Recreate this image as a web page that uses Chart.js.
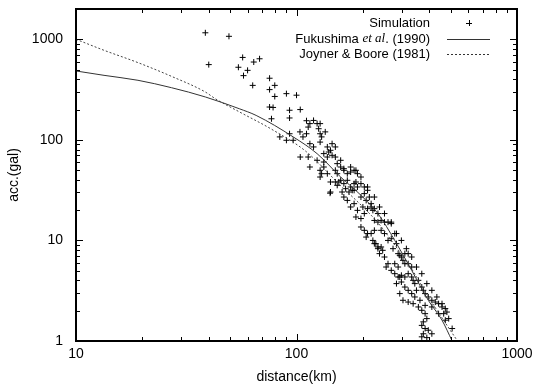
<!DOCTYPE html>
<html>
<head>
<meta charset="utf-8">
<script src="https://cdn.jsdelivr.net/npm/chart.js@4/dist/chart.umd.min.js"></script>
<style>
  html, body { margin: 0; padding: 0; background: #fff; }
</style>
</head>
<body>
<canvas id="chart" width="544" height="389"></canvas>
<script>
// tick values (log axes)
const xLabels = [10, 100, 1000];
const yLabels = [1, 10, 100, 1000];
const xMinor = [20, 30, 40, 50, 60, 70, 80, 90, 200, 300, 400, 500, 600, 700, 800, 900];
const yMinor = [2, 3, 4, 5, 6, 7, 8, 9, 20, 30, 40, 50, 60, 70, 80, 90, 200, 300, 400, 500, 600, 700, 800, 900, 2000];

const legendLabels = ['Simulation', 'Fukushima et al. (1990)', 'Joyner & Boore (1981)'];

// Fukushima et al. (1990) curve
const fukuDist = [10, 13.4, 19.1, 27.1, 38.6, 55, 65.6, 96.6, 124, 158.6, 196, 234, 279, 333, 396, 457, 508];
const fukuAcc = [484, 438, 391, 330, 267, 204, 175, 107, 72.9, 42.7, 28.1, 18.5, 10.0, 5.04, 2.54, 1.61, 1];

// Joyner & Boore (1981) curve
const joynerDist = [10, 13.4, 19.1, 27.1, 38.6, 43, 55, 78.3, 111, 158.6, 196, 234, 279, 333, 396, 457, 537];
const joynerAcc = [1000, 777, 586, 428, 299, 255, 190, 125, 76, 35, 22.5, 15, 9.0, 5.2, 2.75, 1.7, 1];

// simulated records [distance km, acc gal]
const simulation = [
  // scattered near field
  [38.6, 1160], [49.4, 1070], [40, 560], [57, 660], [64, 594], [54.5, 527], [60, 491], [57.5, 435],
  [63.3, 348], [68, 640], [75.5, 410], [75.5, 316], [79.7, 348], [79.7, 270], [75.5, 212], [78.3, 210],
  [90, 288], [100, 278], [93, 197], [104, 200], [77, 162], [93, 165], [111, 155], [115, 145],
  // 80 - 150 km
  [84, 107], [90, 99], [93, 115], [96.6, 99], [103.7, 120], [107, 107], [111, 115], [113, 134],
  [119.5, 156], [124, 145], [126, 129], [128, 115], [130, 107], [115, 91.6], [119.5, 85], [128, 95],
  [138, 85], [142.6, 78.7], [133, 73], [104, 67.5], [113, 67.5], [115, 53.7], [124, 62.6], [133, 60.2],
  [138, 67.5], [128, 49.8], [133, 53.7], [138, 46.1], [128, 145], [135, 120], [145, 91.6], [150, 85],
  [128, 42.7], [130, 46.1], [142.6, 38.1], [142, 29.5],
  // 140 - 220 km
  [140, 75.7], [145, 70.2], [150, 67.5], [153, 58], [158.6, 62.6], [150, 49.8], [153, 46.1], [158.6, 53.7],
  [164, 49.8], [170, 46.1], [158.6, 39.6], [150, 38.1], [153, 35.3], [155.6, 38.1], [164, 36.7], [170, 39.6],
  [176, 34], [182.5, 31.5], [161, 30.3], [167, 32.7], [142.6, 30.3], [176, 53.7], [182.5, 49.8], [189, 46.1],
  [186, 38.1], [189, 34], [196, 36.7], [203, 34], [210, 31.5], [203, 29.2], [196, 27], [207, 25],
  [214, 27], [200, 21.5], [210, 20.7], [218, 23.2], [182.5, 23.2], [176, 21.5], [189, 19.9], [186, 17.1],
  [196, 16.5], [203, 18.5], [170, 25], [164, 27], [182.5, 36.7], [179, 31.5], [173, 30.3],
  // 200 - 330 km
  [218, 21.5], [222, 19.9], [225.5, 20.7], [234, 18.5], [225.5, 15.8], [234, 15.2], [242, 15.8], [250.6, 15.2],
  [260, 15.2], [269, 14.7], [242, 12.6], [250.6, 11.7], [225.5, 12.6], [218, 11.7], [210, 11.7], [203, 12.6],
  [196, 13.6], [207, 10.8], [222, 10], [229, 9.29], [234, 8.61], [242, 8.61], [246, 7.97], [260, 10],
  [269, 10.4], [279, 11.7], [284, 9.29], [274, 8.28], [289, 7.39], [294, 7.11], [299, 6.84], [310, 7.39],
  [321, 7.39], [304, 6.34], [310, 5.87], [321, 5.87], [333, 5.44], [250.6, 6.84], [260, 5.87], [255, 5.44],
  [269, 5.04], [279, 4.67], [289, 4.33], [299, 4.5], [310, 4.33], [225.5, 9.29], [234, 8.28], [238, 7.39],
  // 280 - 510 km
  [321, 4.67], [333, 4.33], [338, 4.01], [344, 3.72], [357, 4.01], [370, 3.44], [376, 3.19], [383, 2.96],
  [396, 2.74], [411, 2.54], [426, 2.44], [441, 2.35], [457, 2.18], [473, 2.1], [465, 1.87], [441, 1.87],
  [411, 2.18], [383, 2.26], [363, 2.54], [344, 2.74], [333, 2.96], [321, 3.19], [310, 3.44], [299, 3.86],
  [294, 2.96], [304, 2.54], [321, 2.44], [338, 2.35], [357, 2.18], [370, 2.02], [383, 1.87], [390, 1.67],
  [376, 1.55], [370, 1.43], [383, 1.33], [396, 1.28], [376, 1.18], [370, 1.10], [390, 1.08], [411, 1.18],
  [490, 1.67], [473, 1.61], [508, 1.33], [350, 3.19], [279, 5.87], [289, 5.44], [284, 3.72], [294, 4.33],
  // upper edge of the band
  [164, 51.7], [176, 47.9], [186, 49.8], [196, 42.7], [210, 34], [225.5, 27], [238, 21.5], [250.6, 18.5],
  [269, 15.2], [284, 11.7], [299, 10], [315, 8.28], [333, 6.84], [350, 5.44], [370, 4.67], [390, 3.72],
  [411, 3.19], [433, 2.74], [457, 2.35], [481, 1.94]
];

const FONT = "'Liberation Sans', Arial, sans-serif";
Chart.defaults.font.family = FONT;
Chart.defaults.font.size = 14;
Chart.defaults.color = '#000';

const toXY = (xs, ys) => xs.map((x, i) => ({ x: x, y: ys[i] }));

// inward tick marks + frame, gnuplot style
const frameTicks = {
  id: 'frameTicks',
  afterDatasetsDraw(chart) {
    const { ctx, chartArea: a, scales: { x, y } } = chart;
    ctx.save();
    ctx.strokeStyle = '#000';
    ctx.lineWidth = 1;
    ctx.beginPath();
    const xt = (v, len) => {
      const px = Math.round(x.getPixelForValue(v)) + 0.5;
      ctx.moveTo(px, a.bottom); ctx.lineTo(px, a.bottom - len);
      ctx.moveTo(px, a.top); ctx.lineTo(px, a.top + len);
    };
    const yt = (v, len) => {
      const py = Math.round(y.getPixelForValue(v)) + 0.5;
      ctx.moveTo(a.left, py); ctx.lineTo(a.left + len, py);
      ctx.moveTo(a.right, py); ctx.lineTo(a.right - len, py);
    };
    xLabels.forEach(v => xt(v, 7));
    xMinor.forEach(v => xt(v, 4));
    yLabels.forEach(v => yt(v, 7));
    yMinor.forEach(v => yt(v, 4));
    ctx.stroke();
    ctx.lineWidth = 2;
    ctx.strokeRect(a.left, a.top, a.right - a.left, a.bottom - a.top);
    ctx.restore();
  }
};

// legend in the top right corner, text right-aligned, samples on the right
const keyBox = {
  id: 'keyBox',
  afterDraw(chart) {
    const { ctx, chartArea: a } = chart;
    const textRight = a.right - 87;
    const s0 = a.right - 70, s1 = a.right - 27;
    const rows = [a.top + 14, a.top + 30, a.top + 45];
    ctx.save();
    ctx.fillStyle = '#000';
    ctx.textBaseline = 'middle';
    ctx.textAlign = 'right';
    ctx.font = '13px ' + FONT;
    ctx.fillText(legendLabels[0], textRight, rows[0]);
    ctx.fillText(legendLabels[2], textRight, rows[2]);

    // "Fukushima et al. (1990)" with italic et al
    let xr = textRight;
    ctx.fillText('. (1990)', xr, rows[1]);
    xr -= ctx.measureText('. (1990)').width;
    ctx.font = "italic 13px 'Liberation Serif', serif";
    ctx.fillText('et al', xr, rows[1]);
    xr -= ctx.measureText('et al').width;
    ctx.font = '13px ' + FONT;
    ctx.fillText('Fukushima ', xr, rows[1]);

    ctx.strokeStyle = '#000';
    ctx.lineWidth = 1;
    const mx = Math.round((s0 + s1) / 2), my = rows[0];
    ctx.beginPath();
    ctx.moveTo(mx - 3, my + 0.5); ctx.lineTo(mx + 3, my + 0.5);
    ctx.moveTo(mx + 0.5, my - 3); ctx.lineTo(mx + 0.5, my + 3);
    ctx.stroke();

    ctx.strokeStyle = '#333';
    ctx.beginPath();
    ctx.moveTo(s0, rows[1] + 0.5); ctx.lineTo(s1, rows[1] + 0.5);
    ctx.stroke();
    ctx.setLineDash([2, 2]);
    ctx.beginPath();
    ctx.moveTo(s0, rows[2] + 0.5); ctx.lineTo(s1, rows[2] + 0.5);
    ctx.stroke();
    ctx.restore();
  }
};

new Chart(document.getElementById('chart'), {
  type: 'scatter',
  data: {
    datasets: [
      {
        label: legendLabels[1],
        data: toXY(fukuDist, fukuAcc),
        showLine: true,
        borderColor: '#333',
        borderWidth: 1,
        pointRadius: 0,
        cubicInterpolationMode: 'monotone'
      },
      {
        label: legendLabels[2],
        data: toXY(joynerDist, joynerAcc),
        showLine: true,
        borderColor: '#444',
        borderWidth: 1,
        borderDash: [2, 2],
        pointRadius: 0,
        cubicInterpolationMode: 'monotone'
      },
      {
        label: legendLabels[0],
        data: simulation.map(p => ({ x: p[0], y: p[1] })),
        pointStyle: 'cross',
        pointRadius: 3,
        pointBorderWidth: 1,
        pointBorderColor: '#000',
        pointBackgroundColor: '#000'
      }
    ]
  },
  options: {
    responsive: false,
    animation: false,
    layout: { padding: { top: 0, right: 27, left: 0, bottom: 0 } },
    plugins: {
      legend: { display: false },
      tooltip: { enabled: false }
    },
    scales: {
      x: {
        type: 'logarithmic',
        min: 10,
        max: 1000,
        afterBuildTicks: s => { s.ticks = xLabels.map(v => ({ value: v })); },
        afterFit: s => { s.height = 48; },
        ticks: { callback: v => String(v), padding: 5, maxRotation: 0, autoSkip: false },
        grid: { display: false, drawTicks: false },
        border: { display: false },
        title: { display: true, text: 'distance(km)', padding: { top: 0, bottom: 3 } }
      },
      y: {
        type: 'logarithmic',
        min: 1,
        max: 2000,
        afterBuildTicks: s => { s.ticks = yLabels.map(v => ({ value: v })); },
        afterFit: s => { s.width = 76; s.paddingTop = 9; },
        ticks: { callback: v => String(v), padding: 13, autoSkip: false },
        grid: { display: false, drawTicks: false },
        border: { display: false },
        title: { display: true, text: 'acc.(gal)', padding: { top: 6, bottom: 0 } }
      }
    }
  },
  plugins: [frameTicks, keyBox]
});
</script>
</body>
</html>
